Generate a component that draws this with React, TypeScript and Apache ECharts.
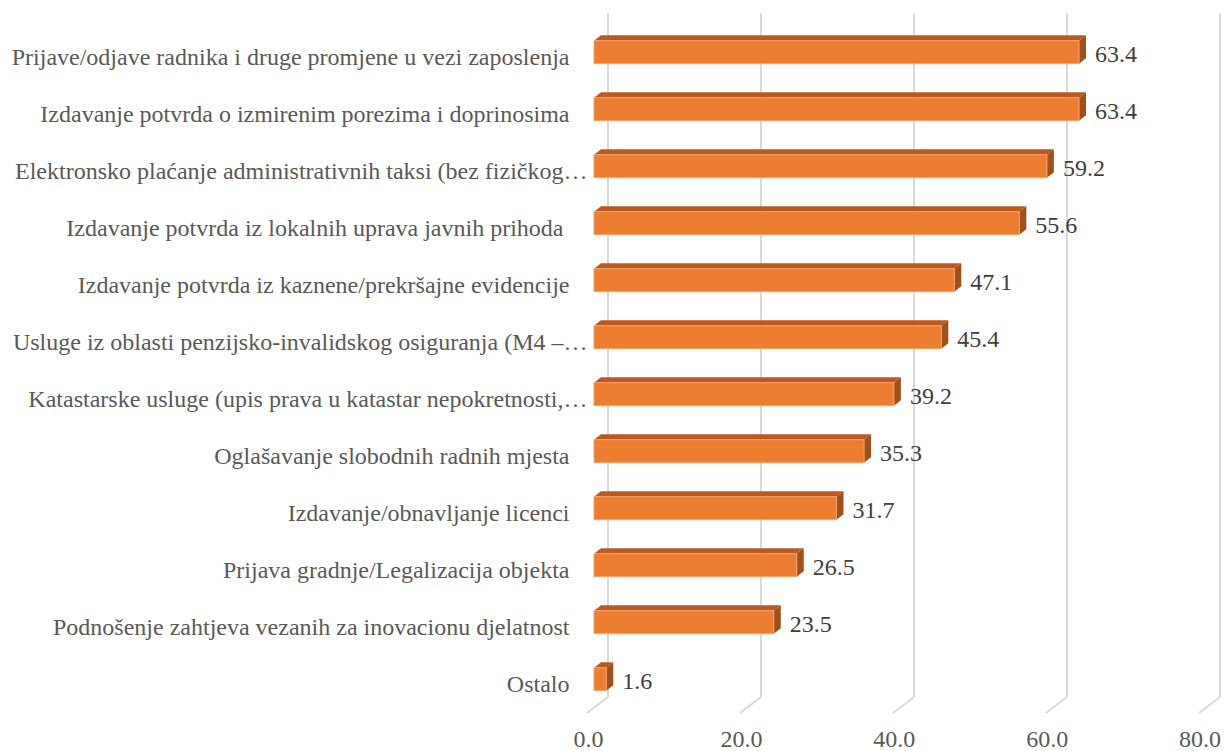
import React, { useEffect, useRef } from "react";
import * as echarts from "echarts";

const categories = [
  "Prijave/odjave radnika i druge promjene u vezi zaposlenja",
  "Izdavanje potvrda o izmirenim porezima i doprinosima",
  "Elektronsko plaćanje administrativnih taksi (bez fizičkog…",
  "Izdavanje potvrda iz lokalnih uprava javnih prihoda ",
  "Izdavanje potvrda iz kaznene/prekršajne evidencije",
  "Usluge iz oblasti penzijsko-invalidskog osiguranja (M4 –…",
  "Katastarske usluge (upis prava u katastar nepokretnosti,…",
  "Oglašavanje slobodnih radnih mjesta",
  "Izdavanje/obnavljanje licenci",
  "Prijava gradnje/Legalizacija objekta",
  "Podnošenje zahtjeva vezanih za inovacionu djelatnost",
  "Ostalo",
];
const values = [63.4, 63.4, 59.2, 55.6, 47.1, 45.4, 39.2, 35.3, 31.7, 26.5, 23.5, 1.6];
const xTicks = [0, 20, 40, 60, 80];

const FONT = "Times New Roman";
const TEXT_COLOR = "#595959";

export default function App() {
  const ref = useRef<HTMLDivElement>(null);
  useEffect(() => {
    if (!ref.current) return;
    const chart = echarts.init(ref.current, undefined, { renderer: "svg" });
    const FLOOR_DX = -21;
    const FLOOR_DY = 16;
    const BAR_SHIFT_X = -14;
    const BAR_SHIFT_Y = 10.7;
    const BAR_H = 23;
    const DX = 7;
    const DY = -5.5;
    chart.setOption({
      animation: false,
      grid: [
        { left: 608, right: 4, top: 13, bottom: 54 },
        { left: 588.5, right: 22.5, top: 29, bottom: 38 },
      ],
      xAxis: [
        {
          gridIndex: 0,
          type: "value",
          min: 0,
          max: 80,
          interval: 20,
          axisLine: { show: false },
          axisTick: { show: false },
          axisLabel: { show: false },
          splitLine: { show: true, lineStyle: { color: "#d9d9d9", width: 2 } },
        },
        {
          gridIndex: 1,
          type: "value",
          min: 0,
          max: 80,
          interval: 20,
          axisLine: { show: false },
          axisTick: { show: false },
          splitLine: { show: false },
          axisLabel: {
            margin: 15,
            fontFamily: FONT,
            fontSize: 24,
            color: TEXT_COLOR,
            formatter: (v: number) => v.toFixed(1),
          },
        },
      ],
      yAxis: [
        {
          gridIndex: 0,
          type: "category",
          data: categories,
          inverse: true,
          axisLine: { show: false },
          axisTick: { show: false },
          axisLabel: { show: false },
          splitLine: { show: false },
        },
        {
          gridIndex: 1,
          type: "category",
          data: categories,
          inverse: true,
          axisLine: { show: false },
          axisTick: { show: false },
          splitLine: { show: false },
          axisLabel: {
            margin: 1,
            fontFamily: FONT,
            fontSize: 24,
            color: TEXT_COLOR,
            formatter: (v: string) => (v.endsWith("…") ? `{t|${v}}` : `{f|${v}}`),
            rich: {
              t: { fontFamily: FONT, fontSize: 24, color: TEXT_COLOR },
              f: { fontFamily: FONT, fontSize: 24, color: TEXT_COLOR, padding: [0, 18, 0, 0] },
            },
          },
        },
      ],
      series: [
        {
          type: "custom",
          xAxisIndex: 0,
          yAxisIndex: 0,
          silent: true,
          data: xTicks.map((t) => [t]),
          renderItem: (params: any, api: any) => {
            const cs = params.coordSys;
            const p = api.coord([api.value(0), 0]);
            const yb = cs.y + cs.height;
            return {
              type: "line",
              shape: { x1: p[0], y1: yb, x2: p[0] + FLOOR_DX, y2: yb + FLOOR_DY },
              style: { stroke: "#d9d9d9", lineWidth: 2 },
            };
          },
        },
        {
          type: "custom",
          xAxisIndex: 0,
          yAxisIndex: 0,
          data: values.map((v, i) => [v, i]),
          renderItem: (params: any, api: any) => {
            const v = api.value(0);
            const c = api.value(1);
            const p0 = api.coord([0, c]);
            const p1 = api.coord([v, c]);
            const fx0 = p0[0] + BAR_SHIFT_X;
            const fx1 = p1[0] + BAR_SHIFT_X;
            const cy = p0[1] + BAR_SHIFT_Y;
            const top = cy - BAR_H / 2;
            const bottom = cy + BAR_H / 2;
            return {
              type: "group",
              children: [
                {
                  type: "polygon",
                  shape: {
                    points: [
                      [fx0, top],
                      [fx1, top],
                      [fx1 + DX, top + DY],
                      [fx0 + DX, top + DY],
                    ],
                  },
                  style: { fill: "#BA5A22" },
                },
                {
                  type: "polygon",
                  shape: {
                    points: [
                      [fx1, top],
                      [fx1 + DX, top + DY],
                      [fx1 + DX, bottom + DY],
                      [fx1, bottom],
                    ],
                  },
                  style: { fill: "#A0501D" },
                },
                {
                  type: "rect",
                  shape: { x: fx0, y: top, width: fx1 - fx0, height: BAR_H },
                  style: { fill: "#ED7D31", stroke: "#F4A470", lineWidth: 1 },
                },
                {
                  type: "text",
                  style: {
                    x: fx1 + DX + 9,
                    y: cy + 2,
                    text: v.toFixed(1),
                    fill: "#404040",
                    fontFamily: FONT,
                    fontSize: 24,
                    verticalAlign: "middle",
                    align: "left",
                  },
                },
              ],
            };
          },
        },
      ],
    });
    return () => chart.dispose();
  }, []);
  return (
    <div
      ref={ref}
      style={{ position: "absolute", left: 0, top: 0, width: 1224, height: 751, background: "#fff" }}
    />
  );
}
